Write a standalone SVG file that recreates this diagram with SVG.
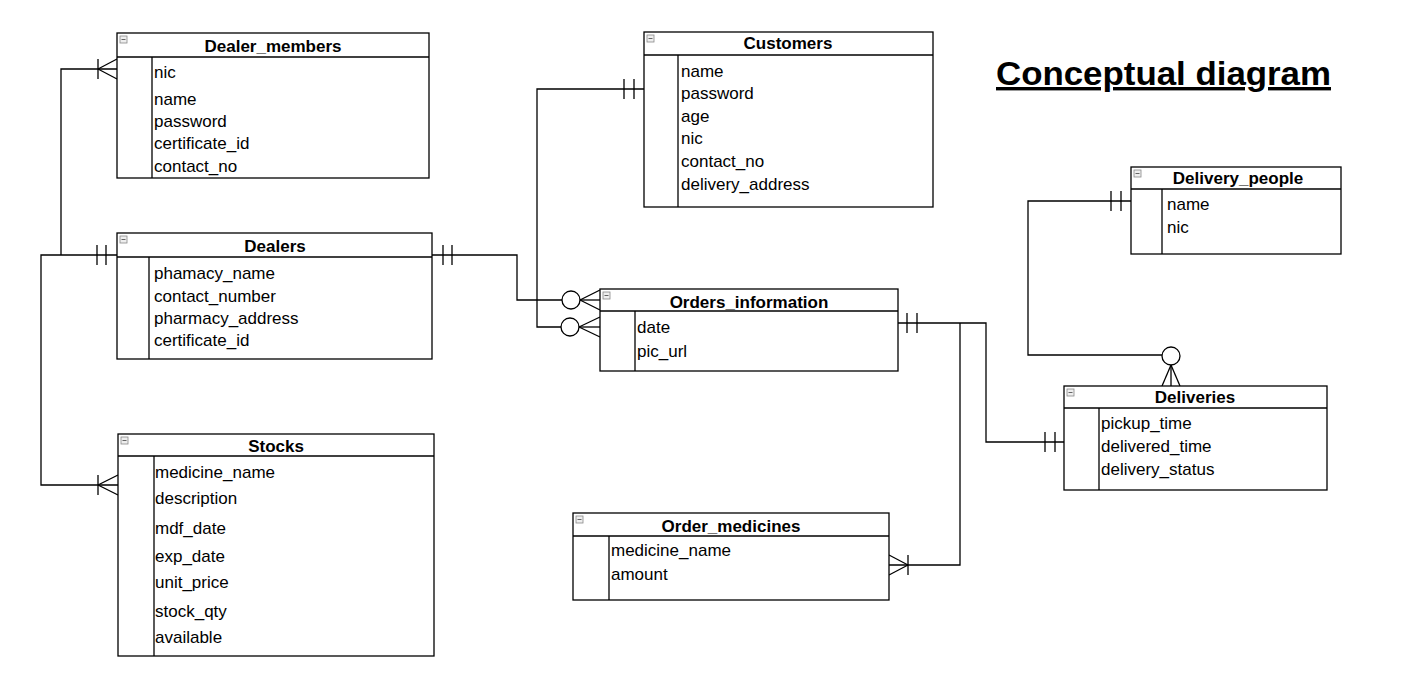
<svg xmlns="http://www.w3.org/2000/svg" width="1407" height="688" viewBox="0 0 1407 688">
<style>
.box{fill:#fff;stroke:#000;stroke-width:1.3}
.ln{fill:none;stroke:#000;stroke-width:1.3}
.t{font-family:"Liberation Sans",Arial,sans-serif;font-size:17px;font-weight:bold;text-anchor:middle;fill:#000}
.a{font-family:"Liberation Sans",Arial,sans-serif;font-size:17px;fill:#000}
.ic{fill:#eee;stroke:#888;stroke-width:0.8}
.icl{stroke:#666;stroke-width:1}
.ttl{font-family:"Liberation Sans",Arial,sans-serif;font-size:34px;font-weight:bold;text-decoration:underline;fill:#000}
</style>
<defs>
<g id="icon"><rect class="ic" x="0" y="0" width="7" height="7"/><line class="icl" x1="1.5" y1="3.5" x2="5.5" y2="3.5"/></g>
</defs>
<rect width="1407" height="688" fill="#fff"/>

<g id="connectors">
<polyline class="ln" points="117,69 61,69 61,255"/>
<line class="ln" x1="98" y1="59" x2="98" y2="79"/>
<line class="ln" x1="98" y1="69" x2="117" y2="59"/>
<line class="ln" x1="98" y1="69" x2="117" y2="79"/>
<polyline class="ln" points="117,255 41,255 41,485 118,485"/>
<line class="ln" x1="97" y1="245" x2="97" y2="265"/>
<line class="ln" x1="106" y1="245" x2="106" y2="265"/>
<line class="ln" x1="98" y1="475" x2="98" y2="495"/>
<line class="ln" x1="98" y1="485" x2="118" y2="475"/>
<line class="ln" x1="98" y1="485" x2="118" y2="495"/>
<polyline class="ln" points="432,255 517,255 517,300 562,300"/>
<line class="ln" x1="443" y1="245" x2="443" y2="265"/>
<line class="ln" x1="452" y1="245" x2="452" y2="265"/>
<circle class="ln" cx="571" cy="300" r="9"/>
<line class="ln" x1="580" y1="300" x2="600" y2="300"/>
<line class="ln" x1="580" y1="300" x2="600" y2="290"/>
<line class="ln" x1="580" y1="300" x2="600" y2="310"/>
<polyline class="ln" points="644,89 537,89 537,327 561,327"/>
<line class="ln" x1="624" y1="79" x2="624" y2="99"/>
<line class="ln" x1="634" y1="79" x2="634" y2="99"/>
<circle class="ln" cx="570" cy="327" r="9"/>
<line class="ln" x1="579" y1="327" x2="600" y2="327"/>
<line class="ln" x1="579" y1="327" x2="600" y2="317"/>
<line class="ln" x1="579" y1="327" x2="600" y2="337"/>
<polyline class="ln" points="898,323 986,323 986,442 1064,442"/>
<line class="ln" x1="907" y1="313" x2="907" y2="333"/>
<line class="ln" x1="917" y1="313" x2="917" y2="333"/>
<line class="ln" x1="1045" y1="432" x2="1045" y2="452"/>
<line class="ln" x1="1055" y1="432" x2="1055" y2="452"/>
<polyline class="ln" points="960,323 960,565 889,565"/>
<line class="ln" x1="908" y1="555" x2="908" y2="575"/>
<line class="ln" x1="908" y1="565" x2="889" y2="555"/>
<line class="ln" x1="908" y1="565" x2="889" y2="575"/>
<polyline class="ln" points="1131,201 1028,201 1028,355 1162,355"/>
<line class="ln" x1="1111" y1="191" x2="1111" y2="211"/>
<line class="ln" x1="1121" y1="191" x2="1121" y2="211"/>
<circle class="ln" cx="1171" cy="356" r="9"/>
<line class="ln" x1="1171" y1="365" x2="1171" y2="386"/>
<line class="ln" x1="1171" y1="365" x2="1162" y2="386"/>
<line class="ln" x1="1171" y1="365" x2="1180" y2="386"/>
</g>

<g id="dealer_members">
<rect class="box" x="117" y="33" width="312" height="145"/>
<line class="ln" x1="117" y1="57" x2="429" y2="57"/>
<line class="ln" x1="152" y1="57" x2="152" y2="178"/>
<use href="#icon" x="120" y="36"/>
<text class="t" x="273" y="52">Dealer_members</text>
<text class="a" x="154" y="78">nic</text>
<text class="a" x="154" y="105">name</text>
<text class="a" x="154" y="127">password</text>
<text class="a" x="154" y="149">certificate_id</text>
<text class="a" x="154" y="172">contact_no</text>
</g>

<g id="dealers">
<rect class="box" x="117" y="233" width="315" height="126"/>
<line class="ln" x1="117" y1="257" x2="432" y2="257"/>
<line class="ln" x1="149" y1="257" x2="149" y2="359"/>
<use href="#icon" x="120" y="236"/>
<text class="t" x="275" y="252">Dealers</text>
<text class="a" x="154" y="279">phamacy_name</text>
<text class="a" x="154" y="302">contact_number</text>
<text class="a" x="154" y="324">pharmacy_address</text>
<text class="a" x="154" y="346">certificate_id</text>
</g>

<g id="stocks">
<rect class="box" x="118" y="434" width="316" height="222"/>
<line class="ln" x1="118" y1="456" x2="434" y2="456"/>
<line class="ln" x1="154" y1="456" x2="154" y2="656"/>
<use href="#icon" x="121" y="437"/>
<text class="t" x="276" y="452">Stocks</text>
<text class="a" x="155" y="478">medicine_name</text>
<text class="a" x="155" y="504">description</text>
<text class="a" x="155" y="534">mdf_date</text>
<text class="a" x="155" y="562">exp_date</text>
<text class="a" x="155" y="588">unit_price</text>
<text class="a" x="155" y="617">stock_qty</text>
<text class="a" x="155" y="643">available</text>
</g>

<g id="customers">
<rect class="box" x="644" y="32" width="289" height="175"/>
<line class="ln" x1="644" y1="55" x2="933" y2="55"/>
<line class="ln" x1="678" y1="55" x2="678" y2="207"/>
<use href="#icon" x="647" y="35"/>
<text class="t" x="788" y="49">Customers</text>
<text class="a" x="681" y="77">name</text>
<text class="a" x="681" y="99">password</text>
<text class="a" x="681" y="122">age</text>
<text class="a" x="681" y="144">nic</text>
<text class="a" x="681" y="167">contact_no</text>
<text class="a" x="681" y="190">delivery_address</text>
</g>

<g id="orders_information">
<rect class="box" x="600" y="289" width="298" height="82"/>
<line class="ln" x1="600" y1="311" x2="898" y2="311"/>
<line class="ln" x1="635" y1="311" x2="635" y2="371"/>
<use href="#icon" x="603" y="292"/>
<text class="t" x="749" y="308">Orders_information</text>
<text class="a" x="637" y="333">date</text>
<text class="a" x="637" y="357">pic_url</text>
</g>

<g id="delivery_people">
<rect class="box" x="1131" y="167" width="210" height="87"/>
<line class="ln" x1="1131" y1="189" x2="1341" y2="189"/>
<line class="ln" x1="1162" y1="189" x2="1162" y2="254"/>
<use href="#icon" x="1134" y="170"/>
<text class="t" x="1238" y="184">Delivery_people</text>
<text class="a" x="1167" y="210">name</text>
<text class="a" x="1167" y="233">nic</text>
</g>

<g id="deliveries">
<rect class="box" x="1064" y="386" width="263" height="104"/>
<line class="ln" x1="1064" y1="408" x2="1327" y2="408"/>
<line class="ln" x1="1099" y1="408" x2="1099" y2="490"/>
<use href="#icon" x="1067" y="389"/>
<text class="t" x="1195" y="403">Deliveries</text>
<text class="a" x="1101" y="429">pickup_time</text>
<text class="a" x="1101" y="452">delivered_time</text>
<text class="a" x="1101" y="475">delivery_status</text>
</g>

<g id="order_medicines">
<rect class="box" x="573" y="513" width="316" height="87"/>
<line class="ln" x1="573" y1="536" x2="889" y2="536"/>
<line class="ln" x1="609" y1="536" x2="609" y2="600"/>
<use href="#icon" x="576" y="516"/>
<text class="t" x="731" y="532">Order_medicines</text>
<text class="a" x="611" y="556">medicine_name</text>
<text class="a" x="611" y="580">amount</text>
</g>

<g id="title">
<text class="ttl" x="996" y="85" textLength="335" lengthAdjust="spacingAndGlyphs">Conceptual diagram</text>
</g>
</svg>
